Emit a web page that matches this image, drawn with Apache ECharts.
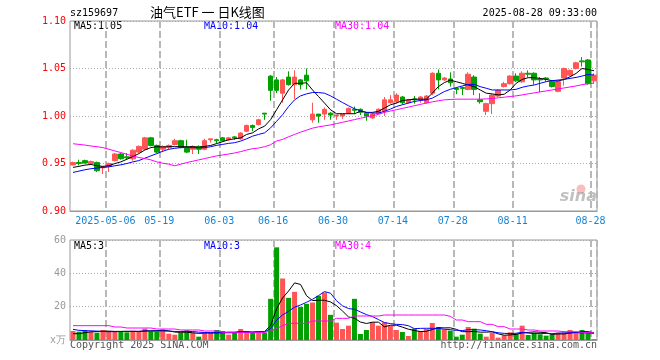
<!DOCTYPE html>
<html>
<head>
<meta charset="utf-8">
<script src="https://cdn.jsdelivr.net/npm/echarts@6/dist/echarts.min.js"></script>
<style>
  html, body { margin: 0; background: #fff; }
  #chart { width: 660px; height: 360px; }
</style>
</head>
<body>
<div id="chart"></div>
<script>
// trading days shown (2025)
const dates = [
  "2025-04-23", "2025-04-24", "2025-04-25", "2025-04-28", "2025-04-29", "2025-04-30",
  "2025-05-06", "2025-05-07", "2025-05-08", "2025-05-09", "2025-05-12", "2025-05-13",
  "2025-05-14", "2025-05-15", "2025-05-16", "2025-05-19", "2025-05-20", "2025-05-21",
  "2025-05-22", "2025-05-23", "2025-05-26", "2025-05-27", "2025-05-28", "2025-05-29",
  "2025-05-30", "2025-06-03", "2025-06-04", "2025-06-05", "2025-06-06", "2025-06-09",
  "2025-06-10", "2025-06-11", "2025-06-12", "2025-06-13", "2025-06-16", "2025-06-17",
  "2025-06-18", "2025-06-19", "2025-06-20", "2025-06-23", "2025-06-24", "2025-06-25",
  "2025-06-26", "2025-06-27", "2025-06-30", "2025-07-01", "2025-07-02", "2025-07-03",
  "2025-07-04", "2025-07-07", "2025-07-08", "2025-07-09", "2025-07-10", "2025-07-11",
  "2025-07-14", "2025-07-15", "2025-07-16", "2025-07-17", "2025-07-18", "2025-07-21",
  "2025-07-22", "2025-07-23", "2025-07-24", "2025-07-25", "2025-07-28", "2025-07-29",
  "2025-07-30", "2025-07-31", "2025-08-01", "2025-08-04", "2025-08-05", "2025-08-06",
  "2025-08-07", "2025-08-08", "2025-08-11", "2025-08-12", "2025-08-13", "2025-08-14",
  "2025-08-15", "2025-08-18", "2025-08-19", "2025-08-20", "2025-08-21", "2025-08-22",
  "2025-08-25", "2025-08-26", "2025-08-27", "2025-08-28"
];

const tickDates = ["2025-05-06", "2025-05-19", "2025-06-03", "2025-06-16", "2025-06-30",
  "2025-07-14", "2025-07-28", "2025-08-11", "2025-08-28"];
const tickLabels = ["2025-05-06", "05-19", "06-03", "06-16", "06-30", "07-14", "07-28", "08-11", "08-28"];

const openP = [
  .9485, .951, .953, .950, .951, .9455, .947, .953, .960, .957,
  .955, .962, .965, .977, .969, .965, .967, .970, .974, .966,
  .965, .968, .965, .975, .975, .977, .975, .978, .976, .984,
  .990, .991, 1.003, 1.042, 1.038, 1.024, 1.041, 1.033, 1.038, 1.043,
  .996, 1.002, 1.002, 1.003, 1.000, 1.000, 1.003, 1.007, 1.007, 1.003,
  .998, 1.003, 1.005, 1.014, 1.015, 1.020, 1.014, 1.018, 1.017, 1.014,
  1.024, 1.045, 1.038, 1.039, 1.029, 1.030, 1.028, 1.041, 1.017, 1.005,
  1.013, 1.021, 1.031, 1.034, 1.042, 1.036, 1.045, 1.045, 1.039, 1.040,
  1.036, 1.026, 1.040, 1.043, 1.050, 1.058, 1.059, 1.037
];
const closeP = [
  .951, .950, .9505, .952, .9425, .9465, .950, .960, .955, .956,
  .964, .968, .977, .969, .962, .968, .969, .974, .967, .962,
  .968, .965, .974, .976, .974, .974, .977, .977, .982, .990,
  .988, .996, 1.002, 1.027, 1.027, 1.038, 1.033, 1.041, 1.033, 1.037,
  1.002, 1.000, 1.007, 1.001, 1.001, 1.002, 1.008, 1.006, 1.004, 1.000,
  1.002, 1.007, 1.017, 1.017, 1.022, 1.014, 1.017, 1.017, 1.020, 1.021,
  1.045, 1.038, 1.040, 1.035, 1.028, 1.029, 1.044, 1.028, 1.015, 1.013,
  1.022, 1.027, 1.034, 1.042, 1.037, 1.045, 1.044, 1.038, 1.038, 1.039,
  1.031, 1.036, 1.050, 1.048, 1.056, 1.057, 1.034, 1.043
];
const lowP = [
  .948, .948, .950, .949, .941, .939, .941, .952, .954, .954,
  .953, .961, .964, .968, .961, .962, .965, .969, .966, .961,
  .960, .960, .964, .972, .971, .973, .974, .975, .975, .983,
  .984, .990, .996, 1.016, 1.024, 1.014, 1.032, 1.018, 1.028, 1.028,
  .993, .993, .996, .996, .996, .997, 1.002, 1.002, 1.001, .995,
  .997, 1.002, 1.000, 1.013, 1.013, 1.012, 1.013, 1.013, 1.014, 1.013,
  1.022, 1.028, 1.037, 1.031, 1.023, 1.022, 1.027, 1.022, 1.013, 1.001,
  1.002, 1.020, 1.030, 1.033, 1.036, 1.035, 1.041, 1.033, 1.025, 1.036,
  1.030, 1.025, 1.032, 1.042, 1.049, 1.052, 1.033, 1.034
];
const highP = [
  .952, .954, .954, .953, .952, .947, .951, .961, .961, .961,
  .965, .969, .978, .978, .970, .969, .970, .976, .975, .975,
  .969, .969, .976, .976, .976, .978, .978, .979, .983, .991,
  .991, .997, 1.003, 1.043, 1.041, 1.039, 1.047, 1.048, 1.039, 1.050,
  1.014, 1.002, 1.009, 1.004, 1.001, 1.002, 1.009, 1.010, 1.008, 1.004,
  1.003, 1.008, 1.020, 1.022, 1.024, 1.021, 1.018, 1.021, 1.021, 1.022,
  1.046, 1.049, 1.041, 1.046, 1.030, 1.031, 1.046, 1.043, 1.024, 1.014,
  1.023, 1.028, 1.036, 1.043, 1.045, 1.047, 1.048, 1.046, 1.041, 1.041,
  1.037, 1.037, 1.051, 1.049, 1.057, 1.062, 1.060, 1.045
];

const ma5 = [
  .9459, .947, .9483, .949, .9476, .947, .9476, .950, .9517, .9545,
  .9573, .9604, .9642, .9667, .9677, .9674, .9677, .9677, .9677, .9677,
  .9677, .967, .968, .969, .971, .973, .975, .976, .977, .9806,
  .9823, .9865, .9893, .9962, 1.0066, 1.017, 1.0274, 1.0344, 1.0344, 1.035,
  1.0274, 1.0205, 1.0136, 1.0066, 1.0024, 1.0024, 1.0024, 1.0024, 1.0049, 1.0038,
  1.0038, 1.0049, 1.0083, 1.0118, 1.0136, 1.0163, 1.017, 1.0177, 1.0177, 1.0177,
  1.024, 1.0309, 1.0351, 1.0378, 1.0361, 1.0344, 1.0326, 1.0309, 1.0274, 1.024,
  1.0233, 1.0222, 1.0229, 1.0274, 1.0344, 1.0385, 1.0403, 1.0403, 1.0396, 1.0385,
  1.0372, 1.0368, 1.0385, 1.0413, 1.0448, 1.05, 1.049, 1.0476
];
const ma10 = [
  .9406, .942, .9434, .9445, .9452, .9459, .9465, .9476, .9486, .950,
  .9517, .9531, .9556, .958, .9604, .9629, .965, .966, .9667, .9667,
  .9667, .9667, .9667, .9677, .9691, .9701, .9712, .9719, .9736, .976,
  .9788, .9806, .9823, .9875, .9944, 1.0014, 1.010, 1.017, 1.0212, 1.0233,
  1.0247, 1.0247, 1.024, 1.0212, 1.0177, 1.0142, 1.0108, 1.0076, 1.0056, 1.0038,
  1.0031, 1.0031, 1.0049, 1.0073, 1.010, 1.0118, 1.0136, 1.0153, 1.0163, 1.017,
  1.0188, 1.0222, 1.0257, 1.0281, 1.0299, 1.0316, 1.0333, 1.0333, 1.0309, 1.0292,
  1.0274, 1.0274, 1.0274, 1.0274, 1.0281, 1.0302, 1.0316, 1.0326, 1.0344, 1.0361,
  1.0372, 1.0378, 1.0385, 1.0396, 1.0406, 1.042, 1.0437, 1.0431
];
const ma30 = [
  .9708, .9701, .9694, .9684, .9677, .9667, .965, .9632, .9615, .9597,
  .958, .9563, .9552, .9538, .9517, .9503, .9493, .9476, .9493, .951,
  .9524, .9538, .9552, .9566, .958, .959, .960, .9611, .9625, .9642,
  .9656, .9663, .9677, .9698, .9736, .9754, .9781, .9806, .983, .9851,
  .9872, .9886, .9896, .9906, .992, .9934, .9948, .9962, .9976, .999,
  1.0003, 1.0017, 1.0038, 1.0052, 1.0066, 1.008, 1.0094, 1.0108, 1.0122, 1.0136,
  1.0149, 1.016, 1.017, 1.0174, 1.0177, 1.0177, 1.0177, 1.0177, 1.0177, 1.018,
  1.0184, 1.0191, 1.0198, 1.0205, 1.0212, 1.0222, 1.0233, 1.0243, 1.0254, 1.0264,
  1.0274, 1.0285, 1.0295, 1.0306, 1.0316, 1.033, 1.034, 1.0347
];

// volume, 万手
const volume = [
  5.4, 5.0, 5.8, 5.0, 4.4, 6.0, 5.4, 5.0, 5.0, 4.6,
  5.6, 5.4, 6.8, 5.2, 5.2, 6.4, 3.8, 3.2, 4.4, 5.8,
  4.4, 2.0, 4.4, 4.4, 6.0, 5.4, 3.2, 4.4, 6.6, 5.4,
  4.4, 4.6, 4.4, 24.7, 55.6, 36.9, 25.3, 28.9, 19.9, 21.7,
  22.5, 26.5, 28.5, 15.1, 10.4, 6.6, 8.6, 24.7, 3.6, 6.0,
  10.6, 8.6, 10.6, 8.6, 6.0, 4.8, 2.4, 6.8, 5.4, 6.6,
  10.2, 7.8, 6.4, 5.6, 2.0, 3.2, 7.8, 6.8, 3.8, 2.0,
  4.4, 1.4, 2.8, 4.6, 3.8, 8.6, 3.0, 4.4, 3.4, 2.6,
  3.4, 4.4, 4.4, 6.0, 4.4, 6.0, 4.4, 0.6
];
const volMa5 = [
  3.8, 3.8, 4.4, 4.9, 5.12, 5.24, 5.32, 5.16, 5.16, 5.2,
  5.12, 5.12, 5.48, 5.52, 5.64, 5.8, 5.48, 4.76, 4.6, 4.72,
  4.32, 3.96, 4.2, 4.2, 4.24, 4.44, 4.68, 4.68, 5.12, 5.0,
  4.8, 5.08, 5.08, 8.7, 18.74, 25.24, 29.38, 34.28, 33.32, 26.54,
  23.66, 23.9, 23.82, 22.86, 20.6, 17.42, 13.84, 13.08, 10.78, 9.9,
  10.7, 10.7, 7.88, 8.88, 8.88, 7.72, 6.48, 5.72, 5.08, 5.2,
  6.28, 7.36, 7.28, 7.32, 6.4, 5.0, 5.0, 5.08, 4.72, 4.72,
  4.96, 3.68, 2.88, 3.04, 3.4, 4.24, 4.56, 4.88, 4.64, 4.4,
  3.36, 3.64, 3.64, 4.16, 4.52, 5.04, 5.04, 4.28
];
const volMa10 = [
  6.4, 5.8, 5.6, 5.5, 5.3, 5.1, 5.0, 5.0, 5.1, 5.16,
  5.18, 5.22, 5.32, 5.34, 5.42, 5.46, 5.3, 5.12, 5.06, 5.18,
  5.06, 4.72, 4.48, 4.4, 4.48, 4.38, 4.32, 4.44, 4.66, 4.62,
  4.62, 4.88, 4.88, 6.91, 11.87, 15.02, 17.23, 19.68, 21.01, 22.64,
  24.45, 26.64, 29.05, 28.09, 23.57, 20.54, 18.87, 18.45, 16.82, 15.25,
  14.06, 12.27, 10.48, 9.83, 9.39, 9.21, 8.59, 6.8, 6.98, 7.04,
  7.0, 6.92, 6.5, 6.2, 5.8, 5.64, 6.18, 6.18, 6.02, 5.56,
  4.98, 4.34, 3.98, 3.88, 4.06, 4.6, 4.12, 3.88, 3.84, 3.9,
  3.8, 4.1, 4.26, 4.4, 4.46, 4.2, 4.34, 3.96
];
const volMa30 = [
  8.6, 8.6, 8.6, 8.6, 8.6, 8.6, 8.6, 7.8, 7.8, 7.2,
  7.2, 7.2, 7.2, 7.2, 6.6, 6.6, 6.6, 6.6, 6.0, 6.0,
  6.0, 6.0, 5.4, 5.4, 5.4, 4.6, 4.6, 4.6, 4.6, 4.6,
  4.6, 4.6, 4.6, 5.4, 7.0, 8.5, 10.0, 10.0, 10.0, 10.0,
  11.4, 11.4, 11.4, 11.4, 13.0, 13.0, 13.0, 14.4, 14.4, 14.4,
  14.4, 14.4, 15.0, 15.0, 15.0, 15.0, 15.0, 15.0, 15.0, 15.0,
  15.0, 15.0, 15.0, 14.2, 12.0, 12.0, 11.0, 11.0, 11.0, 9.4,
  9.4, 8.0, 8.0, 6.6, 6.6, 6.6, 6.0, 6.0, 5.4, 5.4,
  5.4, 5.4, 5.0, 5.0, 5.0, 4.6, 4.6, 4.6
];

const UP = "#ff5555";
const DOWN = "#00a000";
const MONO = "'DejaVu Sans Mono', monospace";

const tickIdx = tickDates.map((d) => dates.indexOf(d));
const isTick = (i) => tickIdx.indexOf(i) >= 0;

const candleData = dates.map((d, i) => [openP[i], closeP[i], lowP[i], highP[i]]);
const volData = volume.map((v, i) => ({
  value: v,
  itemStyle: { color: closeP[i] >= openP[i] ? UP : DOWN }
}));

const lineSeries = (name, data, color, axis) => ({
  name,
  type: "line",
  xAxisIndex: axis,
  yAxisIndex: axis,
  data,
  symbol: "none",
  showSymbol: false,
  lineStyle: { width: 1, color },
  itemStyle: { color },
  silent: true,
  z: 3
});

const catAxis = (gridIndex, showLabel) => ({
  type: "category",
  gridIndex,
  data: dates,
  boundaryGap: true,
  axisLine: { show: true, lineStyle: { color: "#999" } },
  axisTick: { show: false },
  axisLabel: {
    show: showLabel,
    interval: (i) => tickIdx.indexOf(i) >= 0,
    formatter: (v) => tickLabels[tickDates.indexOf(v)],
    color: "#1684d6",
    fontFamily: MONO,
    fontSize: 10,
    margin: 5,
    padding: [0, 7, 0, 0]
  },
  // dashed date lines on the left edge of each marked day
  splitLine: {
    show: true,
    interval: (i) => tickIdx.indexOf(i) >= 0,
    lineStyle: { color: "#b8b8b8", width: 2, type: [7, 3] }
  }
});

const txt = (x, y, text, fill, align, font) => ({
  type: "text",
  x, y,
  silent: true,
  style: {
    text,
    fill,
    font: font || "10px " + MONO,
    textAlign: align || "left",
    textVerticalAlign: "middle"
  }
});

const chart = echarts.init(document.getElementById("chart"));
chart.setOption({
  animation: false,
  grid: [
    { left: 70, right: 63, top: 21, height: 190, show: true, borderColor: "#999" },
    { left: 70, right: 63, top: 240, height: 100, show: true, borderColor: "#999" }
  ],
  xAxis: [catAxis(0, true), catAxis(1, false)],
  yAxis: [
    {
      type: "value",
      gridIndex: 0,
      min: 0.9,
      max: 1.1,
      interval: 0.05,
      axisLine: { show: false },
      axisTick: { show: false },
      axisLabel: {
        color: "#ff0000",
        fontFamily: MONO,
        fontSize: 10,
        margin: 4,
        formatter: (v) => v.toFixed(2)
      },
      splitLine: { lineStyle: { color: "#a8a8a8", type: [1, 2] } }
    },
    {
      type: "value",
      gridIndex: 1,
      min: 0,
      max: 60,
      interval: 20,
      axisLine: { show: false },
      axisTick: { show: false },
      axisLabel: {
        color: "#999",
        fontFamily: MONO,
        fontSize: 10,
        margin: 4,
        formatter: (v) => (v === 0 ? "x万" : String(v))
      },
      splitLine: { lineStyle: { color: "#a8a8a8", type: [1, 2] } }
    }
  ],
  series: [
    {
      name: "K",
      type: "candlestick",
      xAxisIndex: 0,
      yAxisIndex: 0,
      data: candleData,
      barWidth: 5,
      silent: true,
      itemStyle: {
        color: UP,
        color0: DOWN,
        borderColor: UP,
        borderColor0: DOWN,
        borderWidth: 1
      }
    },
    lineSeries("MA5", ma5, "#000000", 0),
    lineSeries("MA10", ma10, "#0000ff", 0),
    lineSeries("MA30", ma30, "#ff00ff", 0),
    {
      name: "VOL",
      type: "bar",
      xAxisIndex: 1,
      yAxisIndex: 1,
      data: volData,
      barWidth: 5,
      silent: true
    },
    lineSeries("VMA5", volMa5, "#000000", 1),
    lineSeries("VMA10", volMa10, "#0000ff", 1),
    lineSeries("VMA30", volMa30, "#ff00ff", 1)
  ],
  graphic: [
    txt(70, 13, "sz159697", "#000"),
    txt(150, 12.5, "油气ETF 一 日K线图", "#000", "left", "13px 'Noto Sans CJK SC', sans-serif"),
    txt(597, 13, "2025-08-28 09:33:00", "#000", "right"),
    txt(74, 26, "MA5:1.05", "#000"),
    txt(204, 26, "MA10:1.04", "#0000ff"),
    txt(335, 26, "MA30:1.04", "#ff00ff"),
    txt(74, 246, "MA5:3", "#000"),
    txt(204, 246, "MA10:3", "#0000ff"),
    txt(335, 246, "MA30:4", "#ff00ff"),
    txt(70, 345, "Copyright 2025 SINA.COM", "#555"),
    txt(597, 345, "http://finance.sina.com.cn", "#555", "right"),
    {
      type: "circle",
      shape: { cx: 581, cy: 189, r: 4.5 },
      style: { fill: "rgba(240,110,110,0.45)" },
      silent: true
    },
    txt(597, 197, "sina", "rgba(140,140,140,0.55)", "right", "italic bold 16px 'DejaVu Sans', sans-serif")
  ]
});
</script>
</body>
</html>
